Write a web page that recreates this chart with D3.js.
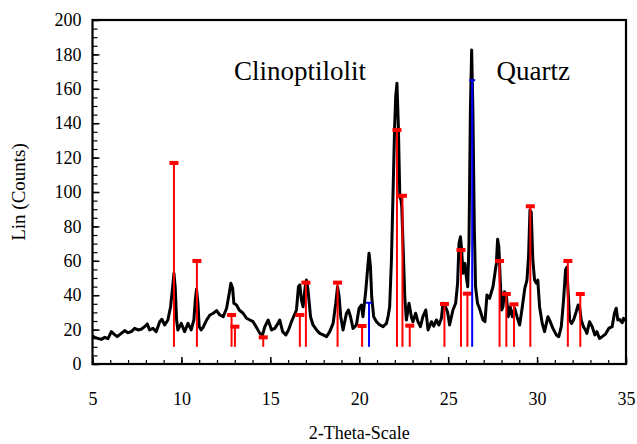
<!DOCTYPE html>
<html><head><meta charset="utf-8">
<script src="https://cdn.jsdelivr.net/npm/d3@7"></script>
<style>
body{margin:0;background:#fff}
text{font-family:"Liberation Serif","Times New Roman",serif}
</style>
</head><body>
<svg id="c" width="637" height="444"></svg>
<script>
// measured XRD pattern
const twoTheta = [5.0,5.12,5.31,5.49,5.69,5.87,6.06,6.21,6.39,6.62,6.81,6.99,7.18,7.37,7.56,7.74,7.93,8.08,8.21,8.40,8.58,8.78,8.90,9.06,9.24,9.39,9.51,9.58,9.65,9.73,9.80,9.99,10.18,10.37,10.55,10.70,10.78,10.85,10.93,11.00,11.11,
11.22,11.42,11.60,11.79,11.98,12.16,12.35,12.54,12.69,12.78,12.88,12.95,13.10,13.25,13.47,13.66,13.85,14.03,14.22,14.41,14.56,14.69,14.88,15.07,15.25,
15.38,15.53,15.69,15.87,16.02,16.19,16.47,16.58,16.66,16.75,16.84,16.96,17.03,17.12,17.26,17.40,17.60,17.78,17.97,18.16,18.34,18.53,18.68,18.78,18.87,18.96,
19.09,19.28,19.39,19.51,19.65,19.84,19.99,20.12,20.21,20.37,20.48,20.55,20.63,20.70,20.81,20.97,21.15,21.34,21.53,21.62,21.71,21.81,21.90,21.99,22.05,22.12,
22.20,22.28,22.35,22.39,22.46,22.56,22.65,22.80,22.93,23.02,23.17,23.30,23.44,23.58,23.74,23.87,24.06,24.19,24.34,24.48,24.62,24.71,24.86,24.97,25.08,25.27,
25.42,25.53,25.61,25.69,25.76,25.83,25.94,26.02,26.10,26.17,26.25,26.32,26.39,26.47,26.54,26.65,26.76,26.96,27.07,27.18,27.33,27.52,27.71,27.78,27.85,27.93,
28.01,28.08,28.17,28.27,28.38,28.49,28.61,28.74,28.87,29.02,29.17,29.31,29.43,29.52,29.60,29.67,29.76,29.86,29.96,30.04,30.14,30.29,30.42,30.61,30.74,30.89,
31.08,31.22,31.36,31.49,31.60,31.67,31.75,31.83,31.94,32.05,32.20,32.31,32.39,32.48,32.61,32.72,32.80,32.95,33.10,33.25,33.36,33.51,33.66,33.85,34.03,34.22,
34.35,34.45,34.54,34.63,34.79,34.86,35.0];
const counts = [16.3,15.5,14.9,14.3,15.5,14.7,18.8,17.4,15.9,17.8,19.4,18.2,18.8,20.7,19.8,20.2,21.7,23.3,19.8,20.7,18.8,24.6,26.0,22.7,25.6,33.3,44.9,52.7,44.9,25.6,19.8,23.6,18.8,23.6,19.8,25.6,37.2,43.4,35.3,21.7,19.8,
21.3,25.6,28.5,29.5,31.0,28.5,27.5,32.4,41.1,46.9,44.0,35.3,34.3,31.4,29.5,26.6,25.6,24.6,21.3,17.8,16.9,21.7,25.6,19.8,20.7,
22.7,25.6,18.8,16.9,19.8,24.6,31.4,44.9,46.0,37.2,33.3,44.9,48.8,43.0,27.5,22.7,19.8,17.8,16.9,15.9,18.8,23.6,35.3,44.9,39.1,27.5,
19.8,29.5,31.4,27.5,20.7,22.7,32.4,34.3,27.5,43.0,56.6,64.4,56.6,39.1,27.5,24.6,22.7,21.7,23.6,27.5,33.3,60.5,99.2,138,155.4,163.2,
138,97.3,95.3,91.5,70.2,39.1,25.6,35.3,27.5,24.6,29.5,24.6,21.7,27.5,31.4,19.8,24.6,22.0,25.6,22.7,26.6,35.3,33.0,30.0,22.7,31.4,
35.3,46.9,70.2,74.0,66.3,52.7,58.5,50.8,44.9,70.2,147.7,182.6,147.7,79.8,44.9,35.3,32.4,25.6,24.6,40.1,38.2,44.9,58.5,72.5,68.2,48.8,
31.4,33.3,42.0,40.1,27.5,33.3,27.5,32.4,27.5,22.7,33.3,44.0,48.8,62.4,89.5,88.5,60.5,48.8,47.0,48.8,33.3,23.6,18.8,27.5,24.6,20.7,
16.9,15.9,21.7,37.2,54.7,56.2,41.1,25.6,23.6,25.6,30.4,34.3,33.3,25.6,21.7,19.8,17.8,24.6,21.7,16.9,18.8,14.9,15.9,17.4,20.7,21.7,
29.5,32.4,25.6,26.0,24.0,26.6,25.0];

// reference sticks
const clinoPos = [9.58,10.87,12.82,13.01,14.60,16.66,17.00,18.78,20.16,22.12,22.43,22.84,24.79,25.72,26.08,27.89,28.27,28.70,29.62,31.73,32.43];
const clinoInt = [116.9,59.9,28.5,21.7,15.5,28.5,47.3,47.3,22.1,136,97.8,22.3,34.9,66.3,40.9,59.9,40.7,34.7,91.7,59.9,40.7];
const quartzPos = [20.55,26.35];
const quartzInt = [35.6,165];
const stickBase = 10;

const xMajor = [5,10,15,20,25,30,35];
const yMajor = [0,20,40,60,80,100,120,140,160,180,200];
const labels = [{text:"Clinoptilolit", x:12.95, y:165}, {text:"Quartz", x:27.72, y:165}];

const W = 637, H = 444;
const m = {l:92.5, r:11, t:20, b:80};
const svg = d3.select("#c");
const x = d3.scaleLinear().domain([5,35]).range([m.l, W - m.r]);
const y = d3.scaleLinear().domain([0,200]).range([H - m.b, m.t]);

// minor ticks
svg.append("g").attr("transform",`translate(0,${H-m.b})`)
  .call(d3.axisBottom(x).tickValues(d3.range(5,36,1)).tickSize(-4).tickFormat(""))
  .call(g=>g.select(".domain").remove())
  .call(g=>g.selectAll("line").attr("stroke","#000").attr("stroke-width",1.2));
svg.append("g").attr("transform",`translate(${m.l},0)`)
  .call(d3.axisLeft(y).tickValues(d3.range(0,201,5)).tickSize(-5).tickFormat(""))
  .call(g=>g.select(".domain").remove())
  .call(g=>g.selectAll("line").attr("stroke","#000").attr("stroke-width",1.2));

// major axes
const xa = svg.append("g").attr("transform",`translate(0,${H-m.b})`)
  .call(d3.axisBottom(x).tickValues(xMajor).tickSize(-7).tickSizeOuter(0).tickPadding(28).tickFormat(d3.format("d")));
const ya = svg.append("g").attr("transform",`translate(${m.l},0)`)
  .call(d3.axisLeft(y).tickValues(yMajor).tickSize(-7).tickSizeOuter(0).tickPadding(11).tickFormat(d3.format("d")));
[xa,ya].forEach(g=>{
  g.selectAll("line").attr("stroke","#000").attr("stroke-width",1.5);
  g.select(".domain").remove();
  g.selectAll("text").attr("fill","#000").style("font-size","18px").style("font-family",'"Liberation Serif",serif');
});

// frame
svg.append("rect").attr("x",x(5)).attr("y",y(200)).attr("width",x(35)-x(5)).attr("height",y(0)-y(200))
  .attr("fill","none").attr("stroke","#000").attr("stroke-width",2.2);

const plot = svg.append("g");
const pts = twoTheta.map((t,i)=>[t,counts[i]]);
plot.append("path").datum(pts)
  .attr("fill","none").attr("stroke","#000").attr("stroke-width",3).attr("stroke-linejoin","round")
  .attr("d", d3.line().x(d=>x(d[0])).y(d=>y(d[1])));

function sticks(pos, ints, color, capW, capH){
  const g = plot.append("g");
  pos.forEach((p,i)=>{
    g.append("line").attr("x1",x(p)).attr("x2",x(p)).attr("y1",y(stickBase)).attr("y2",y(ints[i]))
      .attr("stroke",color).attr("stroke-width",2);
    g.append("rect").attr("x",x(p)-capW/2).attr("y",y(ints[i])-capH/2).attr("width",capW).attr("height",capH)
      .attr("fill",color);
  });
}
sticks(clinoPos, clinoInt, "#ff0000", 9, 4);
sticks(quartzPos, quartzInt, "#0000ff", 6, 2);

labels.forEach(l=>{
  svg.append("text").attr("x",x(l.x)).attr("y",y(l.y)).text(l.text)
    .style("font-size","27px").attr("fill","#000");
});

svg.append("text").attr("x",(x(5)+x(35))/2).attr("y",439).attr("text-anchor","middle")
  .style("font-size","18px").text("2-Theta-Scale");
svg.append("text").attr("transform",`translate(25,${(y(0)+y(200))/2}) rotate(-90)`).attr("text-anchor","middle")
  .style("font-size","19px").text("Lin (Counts)");
</script>
</body></html>
